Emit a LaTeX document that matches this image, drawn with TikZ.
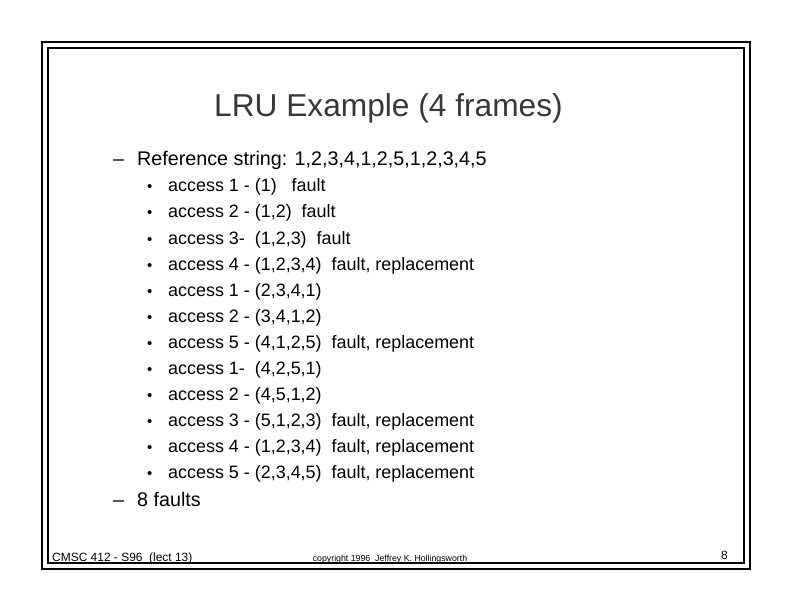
\documentclass[tikz,border=0pt]{standalone}
\usepackage{fontspec}
\setmainfont{Liberation Sans}
\begin{document}
\begin{tikzpicture}[x=1bp,y=-1bp,
  titletext/.style={anchor=base,inner sep=0pt,text=black!78,font=\fontsize{31.8}{36}\selectfont},
  lvlone/.style={anchor=base west,inner sep=0pt,font=\fontsize{19.8}{24}\selectfont},
  lvltwo/.style={anchor=base west,inner sep=0pt,font=\fontsize{18}{21}\selectfont},
  bul/.style={anchor=base west,inner sep=0pt,font=\fontsize{15}{17}\selectfont},
  foot/.style={anchor=base west,inner sep=0pt,font=\fontsize{12}{14}\selectfont},
  copyr/.style={anchor=base,inner sep=0pt,font=\fontsize{8.8}{11}\selectfont},
  frameline/.style={draw=black,line width=1.2bp}]
\useasboundingbox (0,0) rectangle (792,612);
\fill[white] (0,0) rectangle (792,612);
\draw[frameline] (42,42) rectangle (750,569);
\draw[frameline] (48,48) rectangle (744,563);
\node[titletext] (title) at (388.5,117) {LRU Example (4 frames)};
\node[lvlone] (d1) at (113,166) {–};
\node[lvlone] (ref) at (137,166) {Reference string: 1,2,3,4,1,2,5,1,2,3,4,5};
\foreach \i/\t in {0/{access 1 - (1) \ \ fault},
                   1/{access 2 - (1,2) \ fault},
                   2/{access 3- \ (1,2,3) \ fault},
                   3/{access 4 - (1,2,3,4) \ fault, replacement},
                   4/{access 1 - (2,3,4,1)},
                   5/{access 2 - (3,4,1,2)},
                   6/{access 5 - (4,1,2,5) \ fault, replacement},
                   7/{access 1- \ (4,2,5,1)},
                   8/{access 2 - (4,5,1,2)},
                   9/{access 3 - (5,1,2,3) \ fault, replacement},
                   10/{access 4 - (1,2,3,4) \ fault, replacement},
                   11/{access 5 - (2,3,4,5) \ fault, replacement}}{
  \node[bul] (b\i) at (147,192+26*\i) {•};
  \node[lvltwo] (item\i) at (168,192+26*\i) {\t};
}
\node[lvlone] (d2) at (113,506) {–};
\node[lvlone] (faults) at (137,506) {8 faults};
\node[foot] (course) at (52,561) {CMSC 412 - S96 \ (lect 13)};
\node[copyr] (copy) at (390,561) {copyright 1996 \ Jeffrey K. Hollingsworth};
\node[foot] (page) at (721,559) {8};
\end{tikzpicture}
\end{document}
